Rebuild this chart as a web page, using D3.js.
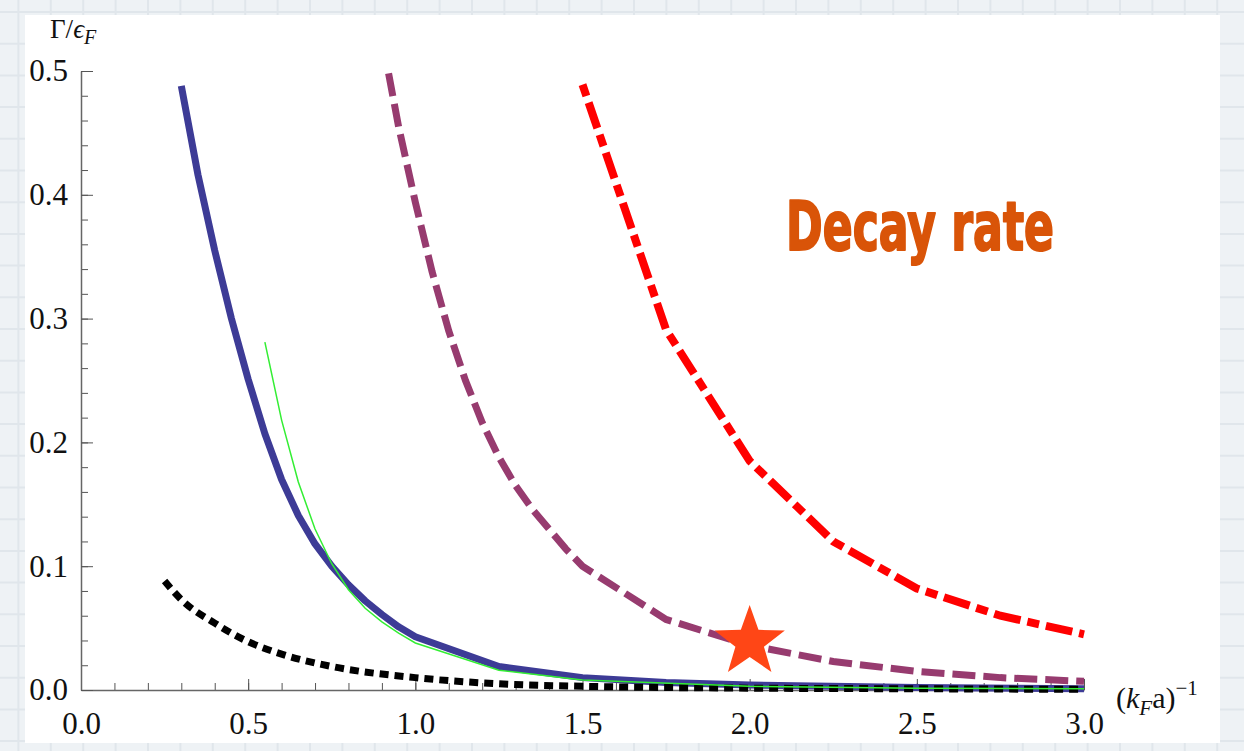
<html>
<head>
<meta charset="utf-8">
<script src="https://d3js.org/d3.v7.min.js"></script>
<style>
  body { margin: 0; background: #eef2f5; }
  .tick text { font-family: "Liberation Serif", "Times New Roman", serif; font-size: 31px; fill: #111; }
</style>
</head>
<body>
<svg width="1244" height="751"></svg>
<script>
// values
var solidX  = [0.3, 0.35, 0.4, 0.45, 0.5, 0.55, 0.6, 0.65, 0.7, 0.75, 0.8, 0.85, 0.9, 0.95, 1.0, 1.25, 1.5, 1.75, 2.0, 2.5, 3.0];
var solidY  = [0.488, 0.416, 0.355, 0.3, 0.251, 0.207, 0.17, 0.141, 0.118, 0.1, 0.085, 0.072, 0.061, 0.051, 0.043, 0.019, 0.01, 0.006, 0.004, 0.002, 0.001];
var greenX  = [0.55, 0.6, 0.65, 0.7, 0.75, 0.8, 0.85, 0.9, 0.95, 1.0, 1.25, 1.5, 2.0, 2.5, 3.0];
var greenY  = [0.281, 0.218, 0.168, 0.13, 0.102, 0.081, 0.066, 0.055, 0.046, 0.038, 0.016, 0.008, 0.003, 0.0015, 0.001];
var dashX   = [0.92, 0.95, 1.0, 1.05, 1.1, 1.15, 1.2, 1.25, 1.3, 1.35, 1.4, 1.45, 1.5, 1.75, 2.0, 2.25, 2.5, 2.75, 3.0];
var dashY   = [0.498, 0.455, 0.394, 0.338, 0.29, 0.25, 0.216, 0.188, 0.165, 0.146, 0.13, 0.114, 0.1, 0.057, 0.036, 0.023, 0.015, 0.01, 0.007];
var dotdX   = [1.5, 1.75, 2.0, 2.25, 2.5, 2.75, 3.0];
var dotdY   = [0.489, 0.291, 0.185, 0.12, 0.082, 0.06, 0.045];
var dotX    = [0.25, 0.3, 0.4, 0.5, 0.6, 0.75, 1.0, 1.25, 1.5, 2.0, 2.5, 3.0];
var dotY    = [0.088, 0.073, 0.054, 0.039, 0.029, 0.019, 0.01, 0.005, 0.003, 0.0015, 0.001, 0.0005];
var starX = 2.0, starY = 0.042;
var xTicks = [0, 0.5, 1.0, 1.5, 2.0, 2.5, 3.0];
var yTicks = [0, 0.1, 0.2, 0.3, 0.4, 0.5];

var svg = d3.select("svg");

// graph-paper backdrop
var bg = svg.append("g");
bg.selectAll(".vl").data(d3.range(-14, 1244, 32.4)).enter().append("line")
  .attr("x1", function(d) { return d; }).attr("x2", function(d) { return d; })
  .attr("y1", 0).attr("y2", 751).attr("stroke", "#e0e6eb").attr("stroke-width", 2);
bg.selectAll(".hl").data(d3.range(12, 751, 31.7)).enter().append("line")
  .attr("y1", function(d) { return d; }).attr("y2", function(d) { return d; })
  .attr("x1", 0).attr("x2", 1244).attr("stroke", "#e0e6eb").attr("stroke-width", 2);

svg.append("rect").attr("x", 25).attr("y", 15).attr("width", 1195).attr("height", 728).attr("fill", "#fff");

var x = d3.scaleLinear().domain([0, 3]).range([81, 1084]);
var y = d3.scaleLinear().domain([0, 0.5]).range([690, 71]);

// minor ticks
svg.append("g").attr("transform", "translate(0,690)")
   .call(d3.axisBottom(x).tickValues(d3.range(0, 3.01, 0.1)).tickSize(-7).tickFormat(""))
   .call(function(g) { g.select(".domain").remove(); g.selectAll("line").attr("stroke", "#555"); });
svg.append("g").attr("transform", "translate(81,0)")
   .call(d3.axisLeft(y).tickValues(d3.range(0, 0.501, 0.02)).tickSize(-7).tickFormat(""))
   .call(function(g) { g.select(".domain").remove(); g.selectAll("line").attr("stroke", "#555"); });

// major ticks + labels
svg.append("g").attr("transform", "translate(0,690)")
   .call(d3.axisBottom(x).tickValues(xTicks).tickSize(-11).tickSizeOuter(0).tickPadding(22).tickFormat(d3.format(".1f")))
   .call(function(g) {
     g.select(".domain").attr("stroke", "#666").attr("stroke-width", 1.5);
     g.selectAll("line").attr("stroke", "#555");
     g.selectAll("text").attr("dy", "0.71em");
   });
svg.append("g").attr("transform", "translate(81,0)")
   .call(d3.axisLeft(y).tickValues(yTicks).tickSize(-12).tickSizeOuter(0).tickPadding(13).tickFormat(d3.format(".1f")))
   .call(function(g) {
     g.select(".domain").attr("stroke", "#666").attr("stroke-width", 1.5);
     g.selectAll("line").attr("stroke", "#555");
   });

var smooth = d3.line().curve(d3.curveMonotoneX).x(function(d) { return x(d[0]); }).y(function(d) { return y(d[1]); });
var line = d3.line().x(function(d) { return x(d[0]); }).y(function(d) { return y(d[1]); });
function pts(xs, ys) { return xs.map(function(v, i) { return [v, ys[i]]; }); }

svg.append("path").attr("d", line(pts(dotdX, dotdY))).attr("fill", "none")
   .attr("stroke", "#ff0000").attr("stroke-width", 8).attr("stroke-dasharray", "12,7,27,7");
svg.append("path").attr("d", line(pts(dashX, dashY))).attr("fill", "none")
   .attr("stroke", "#973b6f").attr("stroke-width", 7).attr("stroke-dasharray", "23,8");
svg.append("path").attr("d", line(pts(solidX, solidY))).attr("fill", "none")
   .attr("stroke", "#3d3b96").attr("stroke-width", 7).attr("stroke-linejoin", "round");
svg.append("path").attr("d", smooth(pts(dotX, dotY))).attr("fill", "none")
   .attr("stroke", "#000").attr("stroke-width", 7).attr("stroke-dasharray", "9,6");
svg.append("path").attr("d", line(pts(greenX, greenY))).attr("fill", "none")
   .attr("stroke", "#33ee33").attr("stroke-width", 1.5);

// star
var starPts = d3.range(10).map(function(i) {
  var r = i % 2 ? 15 : 37, a = -Math.PI / 2 + i * Math.PI / 5;
  return [r * Math.cos(a), r * Math.sin(a)];
});
svg.append("path").attr("d", "M" + starPts.join("L") + "Z")
   .attr("transform", "translate(" + x(starX) + "," + (y(starY) + 4) + ")")
   .attr("fill", "#ff4616");

// annotation
svg.append("text").attr("x", 786).attr("y", 250)
   .attr("font-family", "DejaVu Sans Condensed, DejaVu Sans").attr("font-weight", "bold")
   .attr("font-size", 68).attr("fill", "#d95408").attr("stroke", "#d95408").attr("stroke-width", 2)
   .attr("stroke-linejoin", "round")
   .attr("textLength", 268).attr("lengthAdjust", "spacingAndGlyphs")
   .text("Decay rate");

// axis titles
var ylab = svg.append("text").attr("x", 50).attr("y", 38)
   .attr("font-family", "Liberation Serif, serif").attr("font-size", 27).attr("fill", "#111");
ylab.append("tspan").text("Γ/");
ylab.append("tspan").attr("font-style", "italic").text("ϵ");
ylab.append("tspan").attr("font-style", "italic").attr("font-size", 20).attr("dy", 6).text("F");

var xlab = svg.append("text").attr("x", 1116).attr("y", 708)
   .attr("font-family", "Liberation Serif, serif").attr("font-size", 30).attr("fill", "#111");
xlab.append("tspan").text("(");
xlab.append("tspan").attr("font-style", "italic").text("k");
xlab.append("tspan").attr("font-style", "italic").attr("font-size", 21).attr("dy", 7).text("F");
xlab.append("tspan").attr("dy", -7).text("a)");
xlab.append("tspan").attr("font-size", 21).attr("dy", -13).text("−1");
</script>
</body>
</html>
